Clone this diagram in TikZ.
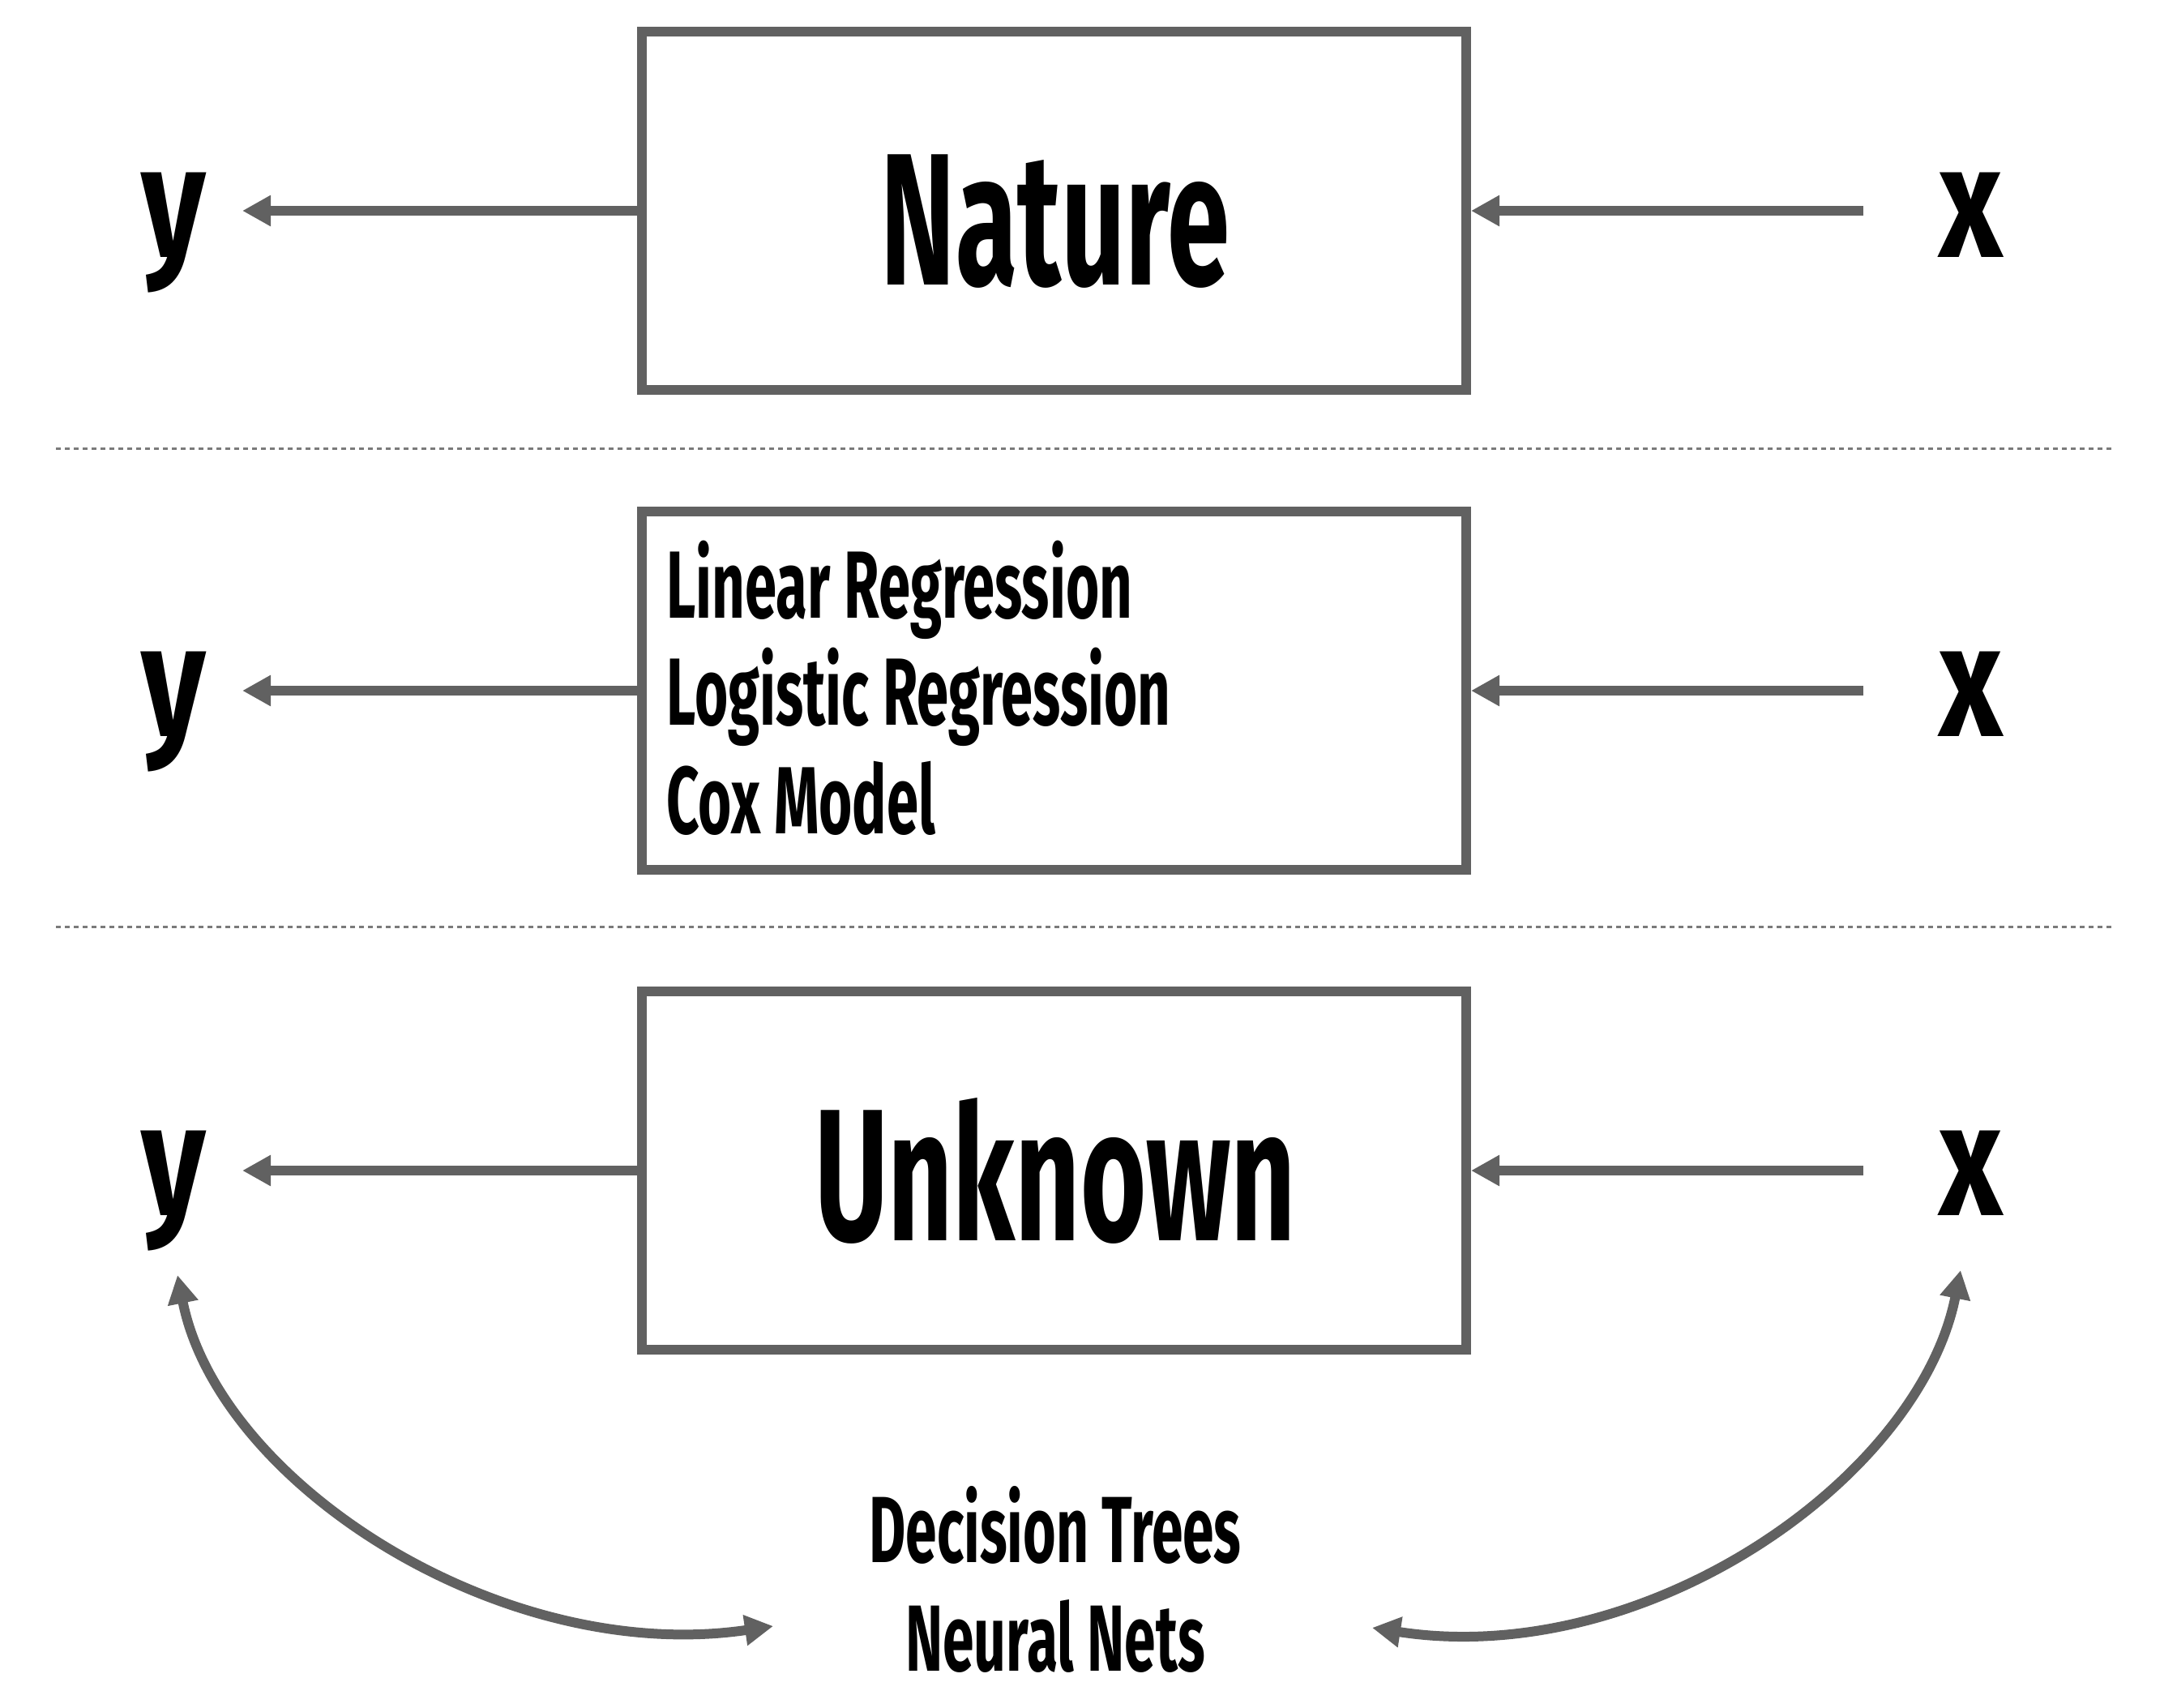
\documentclass[tikz,border=0pt]{standalone}
\usepackage{fontspec}
\newfontfamily\cond{Fira Sans}[FakeStretch=0.6]
\newfontfamily\condvar{Fira Sans}[FakeStretch=0.78]
\usetikzlibrary{arrows.meta}
\definecolor{ln}{HTML}{616161}
\definecolor{dl}{HTML}{7A7A7A}
\newcommand\myfs[1]{\fontsize{#1}{#1}\selectfont}
\begin{document}
\begin{tikzpicture}[x=1cm,y=1cm,
  box/.style={draw=ln, line width=0.12cm, minimum width=10.17cm, minimum height=4.42cm, inner sep=0},
  tip/.style={Triangle[length=0.35cm,width=0.36cm]},
  arr/.style={draw=ln, line width=0.12cm, -{Triangle[length=0.35cm,width=0.36cm]}},
  darr/.style={draw=ln, line width=0.12cm, {Triangle[length=0.35cm,width=0.36cm]}-{Triangle[length=0.35cm,width=0.36cm]}},
  sep/.style={draw=dl, line width=0.03cm, dash pattern=on 0.06cm off 0.05cm},
  big/.style={font=\cond\bfseries\myfs{66}, anchor=base, inner sep=0},
  var/.style={font=\condvar\bfseries\myfs{56}, anchor=base, inner sep=0},
  mid/.style={font=\cond\bfseries\myfs{33.5}, anchor=base west, inner sep=0},
  low/.style={font=\cond\bfseries\myfs{33}, anchor=base, inner sep=0}]
\useasboundingbox[fill=white] (0,0) rectangle (26.86,-21.07);

% separators
\coordinate (s1a) at (0.69,-5.53); \coordinate (s1b) at (26.07,-5.53);
\coordinate (s2a) at (0.69,-11.43); \coordinate (s2b) at (26.07,-11.43);
\draw[sep] (s1a) -- (s1b);
\draw[sep] (s2a) -- (s2b);

% boxes
\node[box] (b1) at (13.005,-2.60) {};
\node[box] (b2) at (13.005,-8.52) {};
\node[box] (b3) at (13.005,-14.44) {};

% box texts
\node[big] (nat) at (13.02,-3.51) {Nature};
\node[big] (unk) at (13.02,-15.30) {Unknown};
\node[mid] (m1) at (8.22,-7.62) {Linear Regression};
\node[mid] (m2) at (8.22,-8.94) {Logistic Regression};
\node[mid] (m3) at (8.22,-10.28) {Cox Model};
\node[low] (dt) at (13.02,-19.27) {Decision Trees};
\node[low] (nn) at (13.02,-20.61) {Neural Nets};

% y and x labels
\node[var] (y1) at (2.14,-3.17) {y};
\node[var] (x1) at (24.32,-3.17) {x};
\node[var] (y2) at (2.14,-9.08) {y};
\node[var] (x2) at (24.32,-9.08) {x};
\node[var] (y3) at (2.14,-14.99) {y};
\node[var] (x3) at (24.32,-14.99) {x};

% horizontal arrows
\coordinate (ytip) at (2.99,0);
\coordinate (xtail) at (22.99,0);
\draw[arr] (b1.west) -- (b1.west -| ytip);
\draw[arr] (b1.east -| xtail) -- (b1.east);
\draw[arr] (b2.west) -- (b2.west -| ytip);
\draw[arr] (b2.east -| xtail) -- (b2.east);
\draw[arr] (b3.west) -- (b3.west -| ytip);
\draw[arr] (b3.east -| xtail) -- (b3.east);

% curved arrows
\coordinate (c1a) at (2.19,-15.73); \coordinate (c1b) at (9.54,-20.06);
\draw[darr] (c1a) .. controls (2.70,-18.30) and (6.20,-20.55) .. (c1b);
\coordinate (c2a) at (24.19,-15.67); \coordinate (c2b) at (16.93,-20.08);
\draw[darr] (c2a) .. controls (23.68,-18.24) and (20.30,-20.60) .. (c2b);
\end{tikzpicture}
\end{document}
